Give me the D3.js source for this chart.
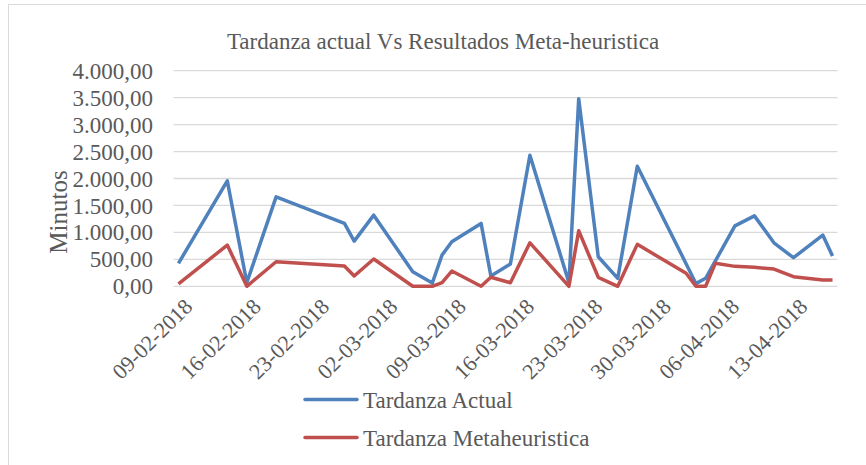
<!DOCTYPE html>
<html>
<head>
<meta charset="utf-8">
<script src="https://cdn.jsdelivr.net/npm/d3@7"></script>
<style>
  body { margin: 0; background: #fff; }
  svg text { font-family: "Liberation Serif", Tinos, "Times New Roman", Times, "DejaVu Serif", serif !important; fill: #595959; }
</style>
</head>
<body>
<div id="view"></div>
<script>
// data
const fechas = [
    '2018-02-09', '2018-02-14', '2018-02-16', '2018-02-19', '2018-02-26', '2018-02-27',
    '2018-03-01', '2018-03-05', '2018-03-07', '2018-03-08', '2018-03-09', '2018-03-12',
    '2018-03-13', '2018-03-15', '2018-03-17', '2018-03-21', '2018-03-22', '2018-03-24',
    '2018-03-26', '2018-03-28', '2018-04-02', '2018-04-03', '2018-04-04', '2018-04-05',
    '2018-04-07', '2018-04-09', '2018-04-11', '2018-04-13', '2018-04-16', '2018-04-17'
];
const tardanzaActual = [
    426, 1956, 67, 1659, 1167, 839,
    1320, 270, 60, 580, 826, 1167,
    191, 413, 2431, 67, 3481, 548,
    148, 2228, 420, 50, 148, 470,
    1122, 1307, 807, 530, 950, 561
];
const tardanzaMeta = [
    43, 765, 0, 456, 376, 191,
    506, 0, 0, 67, 283, 0,
    167, 67, 807, 0, 1030, 167,
    0, 778, 241, 0, 0, 426,
    370, 352, 320, 178, 117, 117
];
const yTicks = [0, 500, 1000, 1500, 2000, 2500, 3000, 3500, 4000];
const xTicks = ['2018-02-09', '2018-02-16', '2018-02-23', '2018-03-02', '2018-03-09',
    '2018-03-16', '2018-03-23', '2018-03-30', '2018-04-06', '2018-04-13'];
const series = [
    {name: 'Tardanza Actual', values: tardanzaActual, color: '#4F81BD'},
    {name: 'Tardanza Metaheuristica', values: tardanzaMeta, color: '#C0504D'}
];

const W = 866, H = 465;
const FONT = '"Liberation Serif", Tinos, "Times New Roman", Times, "DejaVu Serif", serif';
const parse = d3.timeParse('%Y-%m-%d');
const dates = fechas.map(parse);

const svg = d3.select('#view').append('svg')
    .attr('width', W)
    .attr('height', H)
    .attr('font-family', FONT);

// outer frame
svg.append('rect')
    .attr('x', 8.5).attr('y', 4.5)
    .attr('width', 880).attr('height', 480)
    .attr('fill', 'none')
    .attr('stroke', '#D9D9D9')
    .attr('stroke-width', 1);

// scales
const x = d3.scaleTime()
    .domain([new Date(2018, 1, 8, 12), new Date(2018, 3, 17, 12)])
    .range([173.6, 837.4]);
const y = d3.scaleLinear()
    .domain([0, 4000])
    .range([286.3, 70.7]);

const loc = d3.formatLocale({decimal: ',', thousands: '.', grouping: [3], currency: ['', '']});
const fmt = loc.format(',.2f');
const fmtDate = d3.timeFormat('%d-%m-%Y');

// gridlines
svg.append('g')
    .selectAll('line')
    .data(yTicks)
    .join('line')
        .attr('x1', 173.6).attr('x2', 837.4)
        .attr('y1', d => y(d)).attr('y2', d => y(d))
        .attr('stroke', '#D9D9D9')
        .attr('stroke-width', 1.3);

// Y axis labels
const yAxis = svg.append('g')
    .attr('transform', 'translate(153,0)')
    .call(d3.axisLeft(y).tickValues(yTicks).tickFormat(fmt).tickSize(0).tickPadding(0))
    .attr('font-family', FONT);
yAxis.select('.domain').remove();
yAxis.selectAll('text')
    .attr('font-size', 23)
    .attr('dy', '0.33em')
    .attr('fill', '#595959');

// X axis labels
const xAxis = svg.append('g')
    .attr('transform', 'translate(0,297)')
    .call(d3.axisBottom(x).tickValues(xTicks.map(parse)).tickFormat(fmtDate).tickSize(0).tickPadding(0))
    .attr('font-family', FONT);
xAxis.select('.domain').remove();
xAxis.selectAll('text')
    .attr('font-size', 22)
    .attr('text-anchor', 'end')
    .attr('dy', '0.7em')
    .attr('transform', 'translate(4,0) rotate(-45)')
    .attr('fill', '#595959');

// lines
const line = d3.line()
    .x((d, i) => x(dates[i]))
    .y(d => y(d));

series.forEach(s => {
    svg.append('path')
        .datum(s.values)
        .attr('fill', 'none')
        .attr('stroke', s.color)
        .attr('stroke-width', 3.5)
        .attr('stroke-linejoin', 'round')
        .attr('d', line);
});

// title
svg.append('text')
    .attr('x', 443).attr('y', 49)
    .attr('text-anchor', 'middle')
    .attr('font-size', 23)
    .text('Tardanza actual Vs Resultados Meta-heuristica');

// y axis title
svg.append('text')
    .attr('transform', 'translate(67,212) rotate(-90)')
    .attr('text-anchor', 'middle')
    .attr('font-size', 25)
    .text('Minutos');

// legend
const legend = svg.append('g');
series.forEach((s, i) => {
    const ly = 399.5 + i * 38;
    legend.append('line')
        .attr('x1', 305).attr('x2', 357)
        .attr('y1', ly).attr('y2', ly)
        .attr('stroke', s.color)
        .attr('stroke-width', 3.5)
        .attr('stroke-linecap', 'round');
    legend.append('text')
        .attr('x', 363).attr('y', ly + 8)
        .attr('font-size', 23)
        .text(s.name);
});
</script>
</body>
</html>
